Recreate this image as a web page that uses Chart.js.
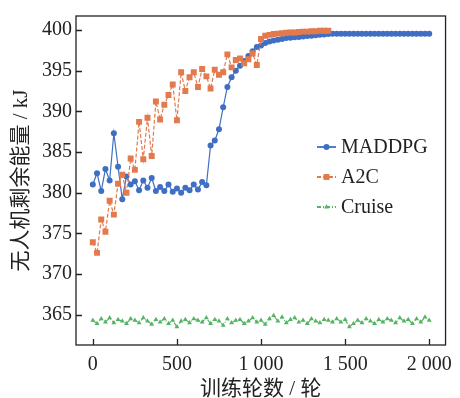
<!DOCTYPE html>
<html lang="zh">
<head>
<meta charset="UTF-8">
<title>无人机剩余能量</title>
<script src="https://cdn.jsdelivr.net/npm/chart.js"></script>
<style>
  body { margin: 0; background: #fff; }
  canvas { display: block; }
</style>
</head>
<body>
<canvas id="myChart" width="460" height="398"></canvas>
<script>
// training epochs (every 25)
const epochs = [0, 25, 50, 75, 100, 125, 150, 175, 200, 225, 250, 275, 300, 325, 350, 375, 400, 425, 450, 475,
  500, 525, 550, 575, 600, 625, 650, 675, 700, 725, 750, 775, 800, 825, 850, 875, 900, 925, 950, 975,
  1000, 1025, 1050, 1075, 1100, 1125, 1150, 1175, 1200, 1225, 1250, 1275, 1300, 1325, 1350, 1375, 1400, 1425, 1450, 1475,
  1500, 1525, 1550, 1575, 1600, 1625, 1650, 1675, 1700, 1725, 1750, 1775, 1800, 1825, 1850, 1875, 1900, 1925, 1950, 1975, 2000];

const maddpg = [381.0, 382.4, 380.2, 382.9, 381.5, 387.3, 383.2, 379.2, 382.0, 381.0,
  381.4, 380.3, 381.5, 380.6, 381.8, 380.2, 380.7, 380.2, 381.0, 380.1,
  380.5, 380.0, 380.6, 380.3, 381.0, 380.4, 381.3, 380.9, 385.8, 386.4,
  387.8, 390.5, 393.0, 394.2, 395.0, 395.6, 396.2, 396.8, 397.4, 397.9,
  398.1, 398.4, 398.6, 398.7, 398.8, 398.9, 399.0, 399.05, 399.1, 399.15,
  399.2, 399.25, 399.3, 399.35, 399.4, 399.45, 399.5, 399.55, 399.55, 399.55,
  399.55, 399.55, 399.55, 399.55, 399.55, 399.55, 399.55, 399.55, 399.55, 399.55,
  399.55, 399.55, 399.55, 399.55, 399.55, 399.55, 399.55, 399.55, 399.55, 399.55, 399.55];

// A2C stops at epoch 1400
const a2c = [373.9, 372.6, 376.7, 375.2, 379.0, 377.3, 381.1, 382.2, 380.0, 384.2,
  382.8, 388.7, 384.1, 389.2, 384.5, 391.2, 389.0, 390.8, 392.0, 393.3,
  388.9, 394.8, 392.5, 394.2, 394.8, 393.0, 395.2, 394.3, 392.8, 395.1,
  394.5, 394.8, 397.0, 395.4, 396.3, 396.5, 395.9, 396.4, 397.1, 395.7,
  398.9, 399.3, 399.4, 399.5, 399.55, 399.6, 399.65, 399.7, 399.7, 399.75,
  399.8, 399.8, 399.85, 399.85, 399.9, 399.9, 399.9];

const cruise = [364.3, 363.9, 364.5, 364.1, 364.6, 364.0, 364.4, 364.2, 363.9, 364.5,
  364.3, 364.0, 364.6, 364.2, 363.8, 364.4, 364.1, 364.5, 363.9, 364.3,
  363.5, 364.2, 364.4, 364.0, 364.5, 364.3, 364.1, 364.6, 363.9, 364.4,
  364.2, 363.7, 364.5, 364.0, 364.3, 364.4, 363.9, 364.2, 364.6, 364.1,
  364.3, 363.8, 364.5, 364.9, 364.2, 364.7, 364.0, 364.4, 364.6, 364.1,
  364.3, 363.9, 364.5, 364.2, 364.0, 364.4, 364.3, 364.1, 364.5, 364.1,
  364.4, 363.5, 363.9, 364.3, 364.0, 364.5, 364.2, 363.9, 364.4, 364.1,
  364.5, 364.3, 364.0, 364.6, 364.2, 364.4, 363.9, 364.5, 364.1, 364.7,
  364.3];

const seriesNames = ['MADDPG', 'A2C', 'Cruise'];
const xTicks = [0, 500, 1000, 1500, 2000];
const xTickLabels = ['0', '500', '1 000', '1 500', '2 000'];
const yTicks = [365, 370, 375, 380, 385, 390, 395, 400];

const colors = ['#3f6fc3', '#e27a4e', '#55b463'];
const styles = [
  { point: 'circle', radius: 3, dash: [] },
  { point: 'rect', radius: 4.2, dash: [4, 2] },
  { point: 'triangle', radius: 2.8, dash: [4, 2, 1, 2] }
];

const serif = '"Liberation Serif", "Noto Sans CJK SC", serif';

function toPoints(vals) {
  return vals.map((v, i) => ({ x: epochs[i], y: v }));
}

function makeSet(i, vals, order) {
  return {
    label: seriesNames[i],
    data: toPoints(vals),
    borderColor: colors[i],
    backgroundColor: colors[i],
    borderWidth: 1.2,
    borderDash: styles[i].dash,
    pointStyle: styles[i].point,
    pointRadius: styles[i].radius,
    pointBorderWidth: 0,
    tension: 0,
    order: order
  };
}

const framePlugin = {
  id: 'frame',
  afterDraw(chart) {
    const { ctx, chartArea: a, scales: { x, y } } = chart;
    ctx.save();
    ctx.strokeStyle = '#222';
    ctx.lineWidth = 1.3;
    ctx.strokeRect(a.left, a.top, a.right - a.left, a.bottom - a.top);
    ctx.beginPath();
    yTicks.forEach(v => {
      const py = Math.round(y.getPixelForValue(v)) + 0.5;
      ctx.moveTo(a.left, py); ctx.lineTo(a.left + 6, py);
    });
    xTicks.forEach(v => {
      const px = Math.round(x.getPixelForValue(v)) + 0.5;
      ctx.moveTo(px, a.bottom); ctx.lineTo(px, a.bottom - 6);
    });
    ctx.stroke();

    // legend inside the plot
    const rows = [147, 177, 207];
    seriesNames.forEach((name, i) => {
      const yy = rows[i];
      ctx.strokeStyle = colors[i];
      ctx.fillStyle = colors[i];
      ctx.lineWidth = 1.8;
      ctx.setLineDash(styles[i].dash);
      ctx.beginPath();
      ctx.moveTo(317, yy); ctx.lineTo(336, yy);
      ctx.stroke();
      ctx.setLineDash([]);
      Chart.helpers.drawPoint(ctx, { pointStyle: styles[i].point, radius: styles[i].radius, borderWidth: 0 }, 326.5, yy);
      ctx.fillStyle = '#222';
      ctx.font = '20px ' + serif;
      ctx.textBaseline = 'middle';
      ctx.textAlign = 'left';
      ctx.fillText(name, 341, yy + 1);
    });
    ctx.restore();
  }
};

new Chart(document.getElementById('myChart'), {
  type: 'line',
  data: {
    datasets: [
      makeSet(0, maddpg, 3),
      makeSet(1, a2c, 2),
      makeSet(2, cruise, 1)
    ]
  },
  options: {
    responsive: false,
    animation: false,
    layout: { padding: { left: 0, right: 6, top: 9, bottom: 0 } },
    plugins: { legend: { display: false }, tooltip: { enabled: false } },
    scales: {
      x: {
        type: 'linear',
        min: -100,
        max: 2097,
        grid: { display: false, drawTicks: false },
        border: { display: false },
        afterBuildTicks: s => { s.ticks = xTicks.map(v => ({ value: v })); },
        afterFit: s => { s.height = 53; },
        ticks: {
          padding: 8,
          color: '#222',
          font: { family: serif, size: 20 },
          maxRotation: 0,
          callback: v => xTickLabels[xTicks.indexOf(v)]
        },
        title: {
          display: true,
          text: '训练轮数 / 轮',
          color: '#222',
          font: { family: serif, size: 21, lineHeight: 0.8 },
          padding: { top: 0, bottom: 0 }
        }
      },
      y: {
        min: 361.27,
        max: 401.72,
        grid: { display: false, drawTicks: false },
        border: { display: false },
        afterBuildTicks: s => { s.ticks = yTicks.map(v => ({ value: v })); },
        afterFit: s => { s.width = 76; },
        ticks: {
          padding: 4,
          color: '#222',
          font: { family: serif, size: 20 }
        },
        title: {
          display: true,
          text: '无人机剩余能量 / kJ',
          color: '#222',
          font: { family: serif, size: 21, lineHeight: 1 },
          padding: { top: 11, bottom: 0 }
        }
      }
    }
  },
  plugins: [framePlugin]
});
</script>
</body>
</html>
